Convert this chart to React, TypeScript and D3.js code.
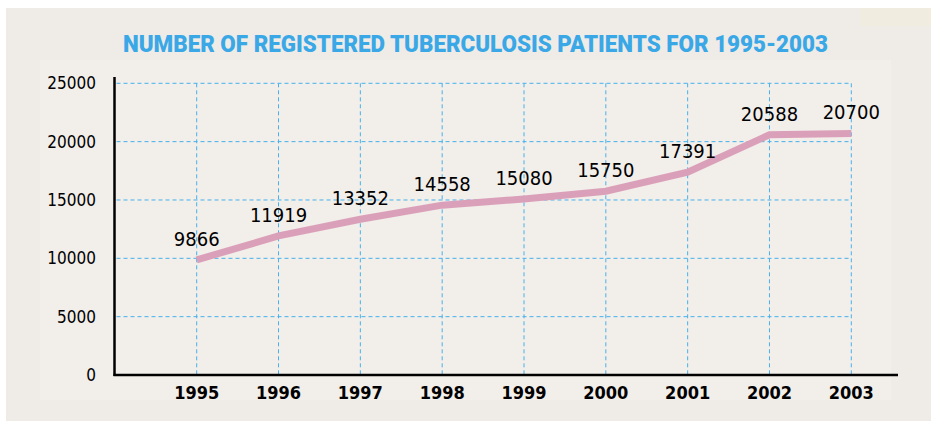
import React from "react";
import * as d3 from "d3";

const years = ["1995", "1996", "1997", "1998", "1999", "2000", "2001", "2002", "2003"];
const patients = [9866, 11919, 13352, 14558, 15080, 15750, 17391, 20588, 20700];
const yTicks = [0, 5000, 10000, 15000, 20000, 25000];
const title = "NUMBER OF REGISTERED TUBERCULOSIS PATIENTS FOR 1995-2003";

const W = 931;
const H = 421;
const axisX = 114.5;
const axisY = 375;
const font = "'DejaVu Sans Condensed', 'DejaVu Sans', sans-serif";

export default function App() {
  const x = d3.scalePoint<string>().domain(years).range([196.7, 851.3]);
  const y = d3.scaleLinear().domain([0, 25000]).range([axisY, 83.3]);
  const line = d3
    .line<number>()
    .x((_, i) => x(years[i]) as number)
    .y((d) => y(d));
  const gridColor = "#45b1ec";

  return (
    <svg
      width={W}
      height={H}
      style={{ position: "absolute", left: 0, top: 0, display: "block" }}
    >
      <rect x={0} y={0} width={W} height={H} fill="#ffffff" />
      <rect x={6} y={8} width={W - 6} height={H - 8} fill="#efebe6" />
      <rect x={40} y={60} width={W - 80} height={340} fill="#f2efeb" opacity={0.8} />
      <rect x={860} y={8} width={71} height={18} fill="#f1ece0" />

      <text
        x={475.5}
        y={51.5}
        textAnchor="middle"
        fontFamily="Roboto, 'Liberation Sans', sans-serif"
        fontWeight={900}
        fontSize={23}
        fill="#3aa8e7"
        textLength={705}
        lengthAdjust="spacingAndGlyphs"
      >
        {title}
      </text>

      {yTicks
        .filter((t) => t > 0)
        .map((t) => (
          <line
            key={"h" + t}
            x1={axisX + 2}
            x2={x(years[years.length - 1]) as number}
            y1={y(t)}
            y2={y(t)}
            stroke={gridColor}
            strokeWidth={1}
            strokeDasharray="4,3"
          />
        ))}
      {years.map((yr) => (
        <line
          key={"v" + yr}
          x1={x(yr) as number}
          x2={x(yr) as number}
          y1={y(25000)}
          y2={axisY}
          stroke={gridColor}
          strokeWidth={1}
          strokeDasharray="4,3"
        />
      ))}

      <line x1={axisX} x2={axisX} y1={77} y2={axisY + 1} stroke="#000" strokeWidth={2.5} />
      <line x1={axisX - 1} x2={898} y1={axisY} y2={axisY} stroke="#000" strokeWidth={2.5} />

      {yTicks.map((t) => (
        <text
          key={"yt" + t}
          x={96}
          y={y(t)}
          dy="0.36em"
          textAnchor="end"
          fontFamily={font}
          fontSize={17}
          fill="#000"
        >
          {t}
        </text>
      ))}

      {years.map((yr) => (
        <text
          key={"xt" + yr}
          x={x(yr) as number}
          y={399}
          textAnchor="middle"
          fontFamily={font}
          fontWeight="bold"
          fontSize={18}
          fill="#000"
        >
          {yr}
        </text>
      ))}

      <path
        d={line(patients) || ""}
        fill="none"
        stroke="#dba0b9"
        strokeWidth={7}
        strokeLinejoin="miter"
      />

      {patients.map((v, i) => (
        <text
          key={"dl" + i}
          x={x(years[i]) as number}
          y={y(v) - 14}
          textAnchor="middle"
          fontFamily={font}
          fontSize={20}
          fill="#000"
        >
          {v}
        </text>
      ))}
    </svg>
  );
}
